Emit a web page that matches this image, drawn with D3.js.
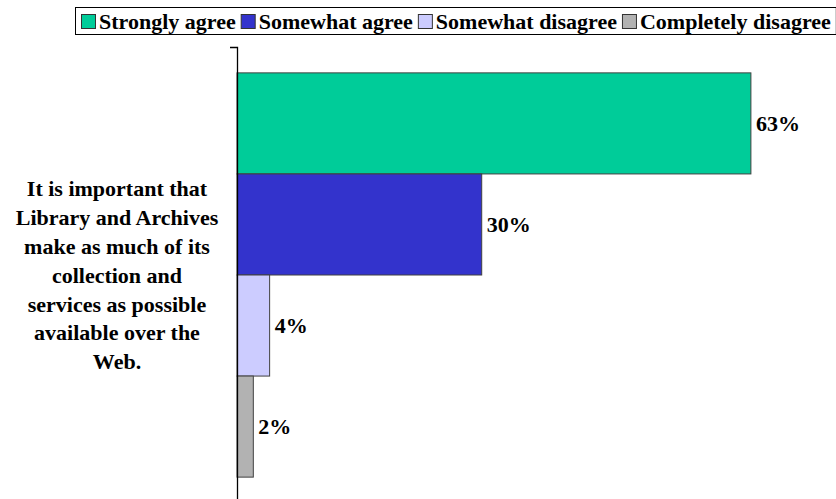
<!DOCTYPE html>
<html>
<head>
<meta charset="utf-8">
<script src="https://cdn.jsdelivr.net/npm/d3@7"></script>
<style>
  body { margin: 0; background: #fff; }
  text { font-family: "Liberation Serif", "DejaVu Serif", serif; font-weight: bold; }
</style>
</head>
<body>
<div id="chart"></div>
<script>
// Data
const questions = ["It is important that Library and Archives make as much of its collection and services as possible available over the Web."];
const labelLines = ["It is important that", "Library and Archives", "make as much of its", "collection and", "services as possible", "available over the", "Web."];
const series = ["Strongly agree", "Somewhat agree", "Somewhat disagree", "Completely disagree"];
const values = [63, 30, 4, 2];
const colors = ["#00CC99", "#3333CC", "#CCCCFF", "#B2B2B2"];

const W = 836, H = 499;
const font = "'Liberation Serif', 'DejaVu Serif', serif";
const svg = d3.select("#chart").append("svg")
    .attr("width", W)
    .attr("height", H);

const x = d3.scaleLinear()
    .domain([0, 70])
    .range([237, 808]);

const y = d3.scaleBand()
    .domain(questions)
    .range([47, 503])
    .paddingInner(0)
    .paddingOuter(0.064);

const ySub = d3.scaleBand()
    .domain(series)
    .range([0, y.bandwidth()]);

const color = d3.scaleOrdinal().domain(series).range(colors);

// bars
const g = svg.append("g")
    .attr("transform", `translate(0,${y(questions[0])})`);

g.selectAll(".bar")
    .data(series)
    .enter()
    .append("rect")
    .attr("class", "bar")
    .attr("x", x(0))
    .attr("y", d => ySub(d))
    .attr("width", (d, i) => x(values[i]) - x(0))
    .attr("height", ySub.bandwidth())
    .attr("fill", d => color(d))
    .attr("stroke", "#404040")
    .attr("stroke-width", 1);

g.selectAll(".val")
    .data(series)
    .enter()
    .append("text")
    .attr("class", "val")
    .attr("x", (d, i) => x(values[i]) + 5)
    .attr("y", d => ySub(d) + ySub.bandwidth() / 2)
    .attr("dy", "0.35em")
    .attr("font-family", font)
    .attr("font-weight", "bold")
    .attr("font-size", "22px")
    .attr("fill", "#000")
    .text((d, i) => values[i] + "%");

// category axis
const yAxis = svg.append("g")
    .attr("class", "y-axis")
    .attr("transform", `translate(${x(0)},0)`)
    .call(d3.axisLeft(y).tickSize(0).tickSizeOuter(7));

yAxis.select(".domain").attr("stroke", "#000").attr("stroke-width", 1.3);
yAxis.selectAll(".tick").remove();

// wrapped category label
const lineH = 28.8;
const cy = y(questions[0]) + y.bandwidth() / 2;
svg.append("text")
    .attr("x", 117)
    .attr("text-anchor", "middle")
    .attr("font-family", font)
    .attr("font-weight", "bold")
    .attr("font-size", "22px")
    .attr("fill", "#000")
    .selectAll("tspan")
    .data(labelLines)
    .enter()
    .append("tspan")
    .attr("x", 117)
    .attr("y", (d, i) => cy + (i - (labelLines.length - 1) / 2) * lineH)
    .attr("dy", "0.35em")
    .text(d => d);

// legend
const legend = svg.append("g").attr("class", "legend");
const box = legend.append("rect")
    .attr("x", 75.5).attr("y", 7.5)
    .attr("height", 27)
    .attr("fill", "#fff")
    .attr("stroke", "#000")
    .attr("stroke-width", 1);

let lx = 81;
series.forEach((s, i) => {
    legend.append("rect")
        .attr("x", lx + 0.5).attr("y", 14.5)
        .attr("width", 14).attr("height", 14)
        .attr("fill", color(s))
        .attr("stroke", "#333");
    const t = legend.append("text")
        .attr("x", lx + 18)
        .attr("y", 21.5)
        .attr("dy", "0.35em")
        .attr("font-family", font)
        .attr("font-weight", "bold")
        .attr("font-size", "22px")
        .attr("fill", "#000")
        .text(s);
    lx += 18 + t.node().getComputedTextLength() + 5;
});
box.attr("width", Math.max(lx - 75, 759));
</script>
</body>
</html>
